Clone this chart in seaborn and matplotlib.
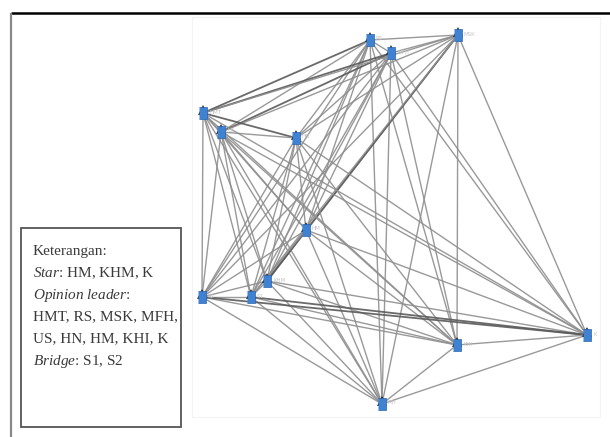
import numpy as np
import pandas as pd
import matplotlib
matplotlib.use("Agg")
import matplotlib.pyplot as plt
import matplotlib.transforms as mtransforms
from matplotlib.patches import Rectangle
import seaborn as sns

# posisi aktor (hasil baca dari gambar, koordinat piksel)
nama = ["RS", "MFH", "MSK", "HMT", "US", "HN", "HM", "KHM", "S1", "S2", "KHI", "K", "MH"]
pos_x = [370, 391, 458, 203, 221, 296, 306, 267, 251, 202, 457, 587, 382]
pos_y = [40, 53, 35, 113, 132, 138, 230, 281, 297, 297, 345, 335, 404]

# relasi antar aktor
relasi = [
    ("RS", "MFH"), ("RS", "MSK"), ("RS", "HMT"), ("RS", "US"), ("RS", "HN"), ("RS", "HM"),
    ("RS", "KHM"), ("RS", "S1"), ("RS", "S2"), ("RS", "KHI"), ("RS", "K"), ("RS", "MH"),
    ("MFH", "MSK"), ("MFH", "HMT"), ("MFH", "US"), ("MFH", "HN"), ("MFH", "HM"), ("MFH", "KHM"),
    ("MFH", "S1"), ("MFH", "S2"), ("MFH", "KHI"), ("MFH", "K"), ("MFH", "MH"),
    ("MSK", "HMT"), ("MSK", "US"), ("MSK", "HN"), ("MSK", "HM"), ("MSK", "KHM"), ("MSK", "S1"),
    ("MSK", "S2"), ("MSK", "KHI"), ("MSK", "K"), ("MSK", "MH"),
    ("HMT", "US"), ("HMT", "HN"), ("HMT", "HM"), ("HMT", "KHM"), ("HMT", "S1"), ("HMT", "S2"),
    ("HMT", "KHI"), ("HMT", "K"), ("HMT", "MH"),
    ("US", "HN"), ("US", "HM"), ("US", "KHM"), ("US", "S1"), ("US", "S2"), ("US", "KHI"),
    ("US", "K"), ("US", "MH"),
    ("HN", "HM"), ("HN", "KHM"), ("HN", "S1"), ("HN", "S2"), ("HN", "KHI"), ("HN", "K"), ("HN", "MH"),
    ("HM", "KHM"), ("HM", "S1"), ("HM", "S2"), ("HM", "KHI"), ("HM", "K"), ("HM", "MH"),
    ("KHM", "S1"), ("KHM", "S2"), ("KHM", "KHI"), ("KHM", "K"), ("KHM", "MH"),
    ("S1", "S2"), ("S1", "KHI"), ("S1", "K"), ("S1", "MH"),
    ("S2", "KHI"), ("S2", "K"), ("S2", "MH"),
    ("KHI", "K"), ("KHI", "MH"),
    ("K", "MH"),
]
# relasi dua arah (garis lebih gelap)
dua_arah = [("MSK", "KHM"), ("RS", "HMT"), ("MFH", "HMT"), ("S1", "K"), ("S2", "K"),
            ("HM", "KHM"), ("MFH", "US"), ("HMT", "HN")]

keterangan = [
    "Keterangan:",
    r"$\mathit{Star}$: HM, KHM, K",
    r"$\mathit{Opinion\ leader}$:",
    "HMT, RS, MSK, MFH,",
    "US, HN, HM, KHI, K",
    r"$\mathit{Bridge}$: S1, S2",
]

node = pd.DataFrame({"nama": nama, "x": pos_x, "y": pos_y})
xy = node.set_index("nama")

sns.set_theme(style="white")
plt.rcParams["mathtext.fontset"] = "custom"
plt.rcParams["mathtext.rm"] = "Liberation Serif"
plt.rcParams["mathtext.it"] = "Liberation Serif:italic"

fig = plt.figure(figsize=(6.1, 4.37), dpi=100)
ax = fig.add_axes([0, 0, 1, 1])
ax.set_xlim(0, 610)
ax.set_ylim(437, 0)
ax.axis("off")

# bingkai halaman
ax.plot([11, 610], [13, 13], color="black", lw=1.8, solid_capstyle="butt")
ax.plot([11, 11], [13, 437], color="#8a8a8a", lw=1.6, solid_capstyle="butt")
ax.add_patch(Rectangle((192, 17), 408, 400, fill=False, ec="#f3f3f3", lw=0.8))

# garis relasi
for a, b in relasi:
    gelap = (a, b) in dua_arah or (b, a) in dua_arah
    ax.plot([xy.loc[a, "x"], xy.loc[b, "x"]], [xy.loc[a, "y"], xy.loc[b, "y"]],
            color="#5a5a5a" if gelap else "#8e8e8e", lw=1.3 if gelap else 1.0,
            alpha=0.9, zorder=1)

# simbol aktor: panah hitam + ikon biru
atas = mtransforms.offset_copy(ax.transData, fig=fig, x=0, y=3, units="dots")
sns.scatterplot(data=node, x="x", y="y", ax=ax, marker="^", s=50, color="#111111",
                edgecolor="none", zorder=3, transform=atas, legend=False)
ikon = [(-0.7, -1), (0.7, -1), (0.7, 1), (-0.7, 1)]
sns.scatterplot(data=node, x="x", y="y", ax=ax, marker=ikon, s=70, color="#3f82d2",
                edgecolor="#2c66b0", linewidth=0.5, zorder=4, legend=False)
for _, r in node.iterrows():
    ax.text(r["x"] + 6, r["y"] - 1, r["nama"], fontsize=4, color="#c4c4c4",
            va="center", ha="left", zorder=5)

# kotak keterangan
ax.add_patch(Rectangle((21, 228), 160, 199, fill=False, ec="#555555", lw=1.3, zorder=6))
for i, baris in enumerate(keterangan):
    ax.text(33, 251 + i * 22, baris, fontsize=11, family="Liberation Serif",
            color="#3a3a3a", va="center", ha="left", zorder=7)

ax.set_xlabel("")
ax.set_ylabel("")
fig.savefig("out.png", dpi=100)
